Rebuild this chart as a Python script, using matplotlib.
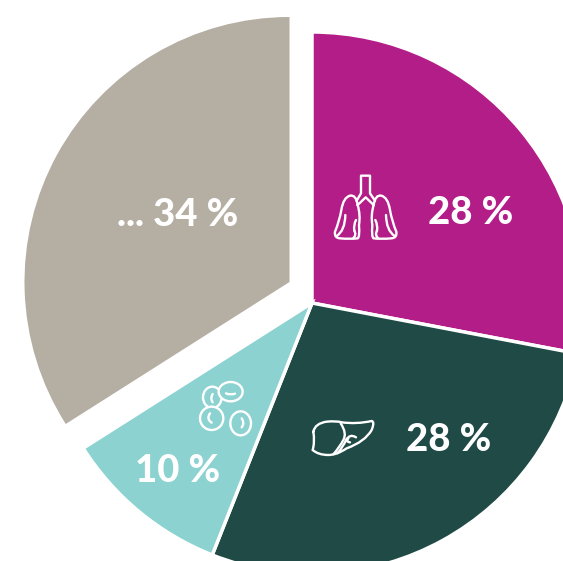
import matplotlib
matplotlib.use("Agg")
from matplotlib import pyplot as plt
from matplotlib.patches import Ellipse, PathPatch
from matplotlib.path import Path

W, H = 563, 561

shares = [28, 28, 10, 34]
labels = ["28 %", "28 %", "10 %", "... 34 %"]
colors = ["#B31D88", "#1F4A46", "#8BD2D1", "#B5AEA3"]

plt.rcParams["font.family"] = ["Lato", "DejaVu Sans"]

fig = plt.figure(figsize=(W / 100, H / 100), dpi=100)
ax = fig.add_axes([0, 0, 1, 1])

wedges, _ = ax.pie(
    shares,
    colors=colors,
    startangle=90,
    counterclock=False,
    radius=271,
    center=(312, H - 303),
    wedgeprops={"edgecolor": "white", "linewidth": 2.5},
)
# the grey slice is pulled out of the pie and a bit smaller
wedges[3].set_center((289.5, H - 282))
wedges[3].set_radius(265)
wedges[3].set_edgecolor("none")

ax.set_xlim(0, W)
ax.set_ylim(0, H)
ax.set_aspect("equal")
ax.axis("off")

# text in picture pixels, y from the top
text_pos = [(471, 224), (449, 451), (178, 482), (178, 226)]
for label, (x, y) in zip(labels, text_pos):
    ax.text(x, H - y, label, color="white", fontsize=27.5, fontweight=900,
            ha="center", va="baseline")


def curve(pts, ox, oy, zorder=5, lw=1.7):
    verts = [(ox + x / 3, H - (oy + y / 3)) for x, y in pts]
    codes = [Path.MOVETO] + [Path.CURVE3] * (len(verts) - 1)
    ax.add_patch(PathPatch(Path(verts, codes), fc="none", ec="white", lw=lw,
                           zorder=zorder, capstyle="round"))


def line(pts, ox, oy, lw=1.7):
    verts = [(ox + x / 3, H - (oy + y / 3)) for x, y in pts]
    ax.plot([v[0] for v in verts], [v[1] for v in verts], c="white", lw=lw,
            zorder=5, solid_capstyle="round")


# lungs
lung = [(113, 135), (108, 103), (90, 107), (70, 112), (64, 150), (58, 185), (45, 215),
        (42, 234), (60, 235), (90, 238), (113, 235), (120, 232), (117, 195), (122, 165), (113, 135)]
lung_in = [(50, 228), (75, 212), (76, 165)]
lung_in2 = [(103, 212), (100, 195), (108, 180)]
lung_in3 = [(103, 212), (110, 225), (100, 234)]
for mirror in (False, True):
    for part in (lung, lung_in, lung_in2, lung_in3):
        pts = [(274 - x, y) if mirror else (x, y) for x, y in part]
        curve(pts, 320, 160)
line([(110, 122), (123, 100), (123, 47), (150, 47), (150, 100), (165, 122)], 320, 160)
line([(113, 135), (137, 112), (161, 135)], 320, 160)

# liver
curve([(40, 80), (45, 55), (80, 50), (110, 47), (125, 52), (170, 58), (215, 48), (225, 50),
       (215, 75), (195, 110), (140, 130), (110, 150), (85, 150), (55, 150), (38, 135),
       (45, 110), (40, 80)], 300, 405)
curve([(122, 55), (142, 85), (130, 105), (120, 125), (100, 148)], 300, 405)
curve([(168, 97), (150, 85), (138, 105), (130, 125), (112, 145)], 300, 405)
curve([(145, 100), (135, 110), (150, 112)], 300, 405)

# blood cells, later ones sit on top
cells = [(67, 82, 56, 64), (122, 65, 72, 58), (65, 145, 70, 70), (152, 160, 62, 72)]
for i, (cx, cy, w, h) in enumerate(cells):
    ax.add_patch(Ellipse((190 + cx / 3, H - (370 + cy / 3)), w / 3, h / 3, fc=colors[2],
                         ec="white", lw=1.7, zorder=3 + i * 0.1))
curve([(108, 70), (120, 76), (135, 71)], 190, 370)
curve([(68, 72), (60, 85), (68, 97)], 190, 370)
curve([(60, 130), (48, 147), (65, 158)], 190, 370)
curve([(155, 145), (165, 160), (155, 172)], 190, 370)

fig.savefig("out.png", dpi=100)
